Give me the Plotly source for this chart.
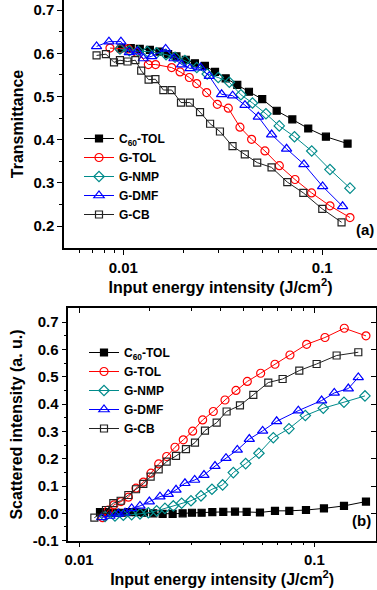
import plotly.graph_objects as go

# ---------------- Panel (a): Transmittance ----------------
x_c60_a = [0.0098, 0.0109, 0.0121, 0.0136, 0.0152, 0.0168, 0.0185, 0.0206, 0.0229, 0.0257,
           0.0289, 0.0327, 0.0374, 0.0428, 0.0499, 0.0590, 0.0707, 0.0850, 0.1043, 0.1340]
y_c60_a = [0.612, 0.612, 0.610, 0.608, 0.604, 0.598, 0.593, 0.585, 0.577, 0.571,
           0.557, 0.542, 0.527, 0.511, 0.494, 0.467, 0.447, 0.426, 0.407, 0.391]

x_tol_a = [0.00857, 0.00962, 0.0106, 0.01167, 0.01336, 0.01453, 0.0175, 0.0193, 0.02147, 0.02338,
           0.02624, 0.02967, 0.03371, 0.03857, 0.04413, 0.05151, 0.06082, 0.07292, 0.08835, 0.1093, 0.1378]
y_tol_a = [0.612, 0.610, 0.610, 0.602, 0.574, 0.574, 0.567, 0.557, 0.544, 0.530,
           0.509, 0.482, 0.473, 0.429, 0.401, 0.374, 0.340, 0.308, 0.277, 0.247, 0.220]

x_nmp_a = [0.00962, 0.01072, 0.0119, 0.0132, 0.0147, 0.0164, 0.0182, 0.0204, 0.0234, 0.0264,
           0.0300, 0.0341, 0.0390, 0.0446, 0.0521, 0.0608, 0.0725, 0.0885, 0.1093, 0.1378]
y_nmp_a = [0.610, 0.606, 0.605, 0.604, 0.601, 0.597, 0.591, 0.583, 0.567, 0.552,
           0.544, 0.533, 0.504, 0.485, 0.460, 0.432, 0.407, 0.374, 0.331, 0.288]

x_dmf_a = [0.00734, 0.00847, 0.00973, 0.01072, 0.01176, 0.01260, 0.01388, 0.01632, 0.01797, 0.01964, 0.02163,
           0.02446, 0.02704, 0.03119, 0.03543, 0.04088, 0.04770, 0.05564, 0.06616, 0.08088, 0.1004, 0.1265]
y_dmf_a = [0.616, 0.627, 0.627, 0.602, 0.604, 0.588, 0.593, 0.610, 0.588, 0.574, 0.565,
           0.567, 0.547, 0.505, 0.502, 0.480, 0.453, 0.412, 0.379, 0.343, 0.292, 0.246]

x_cb_a = [0.00734, 0.00818, 0.00898, 0.00962, 0.0105, 0.0115, 0.0123, 0.0134, 0.0145, 0.0159, 0.0175, 0.0195,
          0.0216, 0.0243, 0.0273, 0.0306, 0.0354, 0.0408, 0.0471, 0.0556, 0.0667, 0.0803, 0.1000, 0.1250]
y_cb_a = [0.595, 0.598, 0.579, 0.584, 0.581, 0.584, 0.560, 0.539, 0.540, 0.515, 0.515, 0.486,
          0.486, 0.464, 0.437, 0.419, 0.385, 0.366, 0.347, 0.336, 0.302, 0.277, 0.240, 0.209]

# ---------------- Panel (b): Scattered intensity ----------------
x_c60_b = [0.01228, 0.01289, 0.01354, 0.01432, 0.01518, 0.01621, 0.01747, 0.01889, 0.02069, 0.02267, 0.02500,
           0.02757, 0.03021, 0.03320, 0.03686, 0.04103, 0.04602, 0.05159, 0.05876, 0.06806, 0.07831, 0.09218,
           0.1099, 0.1337, 0.1658]
y_c60_b = [0.004, 0.004, 0.002, 0.002, 0.002, 0.004, 0.004, 0.002, 0.000, -0.002, -0.002,
           0.000, 0.002, 0.002, 0.004, 0.005, 0.006, 0.005, 0.003, 0.009, 0.009, 0.012,
           0.018, 0.027, 0.043]

x_tol_b = [0.01261, 0.01333, 0.01409, 0.01509, 0.01621, 0.01747, 0.01877, 0.02022, 0.02181, 0.02358, 0.02558,
           0.02774, 0.03041, 0.03353, 0.03722, 0.04173, 0.04646, 0.05191, 0.05916, 0.06806, 0.07880, 0.09278,
           0.1110, 0.1341, 0.1658]
y_tol_b = [-0.016, 0.012, 0.031, 0.043, 0.059, 0.092, 0.114, 0.147, 0.181, 0.208, 0.242,
           0.269, 0.301, 0.342, 0.373, 0.415, 0.450, 0.483, 0.513, 0.546, 0.580, 0.619,
           0.644, 0.678, 0.650]

x_nmp_b = [0.01290, 0.01422, 0.01543, 0.01674, 0.01816, 0.01971, 0.02138, 0.02319, 0.02517, 0.02730, 0.02991,
           0.03299, 0.03673, 0.04077, 0.04527, 0.05107, 0.05816, 0.06696, 0.07804, 0.09157, 0.1092, 0.1337, 0.1642]
y_nmp_b = [-0.012, -0.010, -0.007, -0.005, -0.002, 0.002, 0.009, 0.018, 0.027, 0.037, 0.046,
           0.064, 0.088, 0.104, 0.149, 0.182, 0.220, 0.277, 0.310, 0.358, 0.385, 0.407, 0.430]

x_dmf_b = [0.01248, 0.01354, 0.01469, 0.01569, 0.01674, 0.01816, 0.01990, 0.02209, 0.02396, 0.02584, 0.02820,
           0.03101, 0.03397, 0.03784, 0.04214, 0.04708, 0.05294, 0.06031, 0.06917, 0.08551, 0.1074, 0.1216,
           0.1395, 0.1538]
y_dmf_b = [-0.015, -0.010, -0.002, 0.002, 0.018, 0.027, 0.043, 0.061, 0.070, 0.086, 0.110,
           0.122, 0.140, 0.173, 0.202, 0.232, 0.272, 0.302, 0.337, 0.376, 0.413, 0.441,
           0.457, 0.498]

x_cb_b = [0.01162, 0.01302, 0.01399, 0.01503, 0.01621, 0.01747, 0.01877, 0.02016, 0.02181, 0.02358, 0.02584,
          0.02848, 0.03111, 0.03430, 0.03846, 0.04240, 0.04831, 0.05505, 0.06374, 0.07334, 0.08634, 0.1023,
          0.1244, 0.1538]
y_cb_b = [-0.016, 0.012, 0.037, 0.046, 0.067, 0.088, 0.108, 0.134, 0.161, 0.189, 0.210,
          0.235, 0.259, 0.303, 0.332, 0.373, 0.395, 0.434, 0.479, 0.492, 0.523, 0.547,
          0.578, 0.590]

names = ["C<sub>60</sub>-TOL", "G-TOL", "G-NMP", "G-DMF", "G-CB"]
colors = ["#000000", "#FF0000", "#008B8B", "#0000FF", "#222222"]
symbols = ["square", "circle-open", "diamond-open", "triangle-up-open", "square-open"]
msizes = [7, 8, 8, 9, 7]

FONT = "Liberation Sans, Arial, sans-serif"

fig = go.Figure()

data_a = [(x_c60_a, y_c60_a), (x_tol_a, y_tol_a), (x_nmp_a, y_nmp_a), (x_dmf_a, y_dmf_a), (x_cb_a, y_cb_a)]
data_b = [(x_c60_b, y_c60_b), (x_tol_b, y_tol_b), (x_nmp_b, y_nmp_b), (x_dmf_b, y_dmf_b), (x_cb_b, y_cb_b)]

for i, (xs, ys) in enumerate(data_a):
    fig.add_trace(go.Scatter(x=xs, y=ys, mode="lines+markers", name="<b>" + names[i] + "</b>",
                             line=dict(color=colors[i], width=1),
                             marker=dict(symbol=symbols[i], size=msizes[i], color=colors[i],
                                         line=dict(color=colors[i], width=1.2)),
                             xaxis="x", yaxis="y", legend="legend"))
for i, (xs, ys) in enumerate(data_b):
    fig.add_trace(go.Scatter(x=xs, y=ys, mode="lines+markers", name="<b>" + names[i] + "</b>",
                             line=dict(color=colors[i], width=1),
                             marker=dict(symbol=symbols[i], size=msizes[i], color=colors[i],
                                         line=dict(color=colors[i], width=1.2)),
                             xaxis="x2", yaxis="y2", legend="legend2"))

# invisible traces to keep the mirror axes drawn
fig.add_trace(go.Scatter(x=[0.05], y=[0.3], xaxis="x3", yaxis="y2", mode="markers",
                         marker=dict(opacity=0), showlegend=False, hoverinfo="skip"))
fig.add_trace(go.Scatter(x=[0.05], y=[0.3], xaxis="x2", yaxis="y3", mode="markers",
                         marker=dict(opacity=0), showlegend=False, hoverinfo="skip"))

W, H = 377, 590
minor_log_a = [0.006, 0.007, 0.008, 0.009, 0.02, 0.03, 0.04, 0.05, 0.06, 0.07, 0.08, 0.09]
minor_log_b = [0.02, 0.03, 0.04, 0.05, 0.06, 0.07, 0.08, 0.09]

tickfont = dict(family=FONT, size=15, color="black")
titlefont = dict(family=FONT, size=16, color="black")

common_x = dict(type="log", showgrid=False, zeroline=False, showline=True, linecolor="black",
                linewidth=1.5, ticks="outside", ticklen=5, tickwidth=1.2, tickcolor="black",
                tickvals=[0.01, 0.1], ticktext=["<b>0.01</b>", "<b>0.1</b>"], tickfont=tickfont,
                automargin=False)
common_y = dict(showgrid=False, zeroline=False, showline=True, linecolor="black", linewidth=1.5,
                ticks="outside", ticklen=5, tickwidth=1.2, tickcolor="black", tickfont=tickfont,
                automargin=False)

xa_dom = [64 / W, 1.0]
ya_dom = [1 - 248 / H, 1.0]
xb_dom = [68.3 / W, 376 / W]
yb_dom = [1 - 540.7 / H, 1 - 308.3 / H]

fig.update_layout(
    width=W, height=H, margin=dict(l=0, r=0, t=0, b=0, autoexpand=False),
    paper_bgcolor="white", plot_bgcolor="white",
    font=dict(family=FONT, color="black"),
    xaxis=dict(common_x, domain=xa_dom, anchor="y", range=[-2.298, -0.725],
               minor=dict(tickvals=minor_log_a, ticks="outside", ticklen=3, tickcolor="black", showgrid=False),
               title=dict(text="<b>Input energy intensity (J/cm<sup>2</sup>)</b>", font=titlefont, standoff=7)),
    yaxis=dict(common_y, domain=ya_dom, anchor="x", range=[0.1495, 0.7233],
               tickvals=[0.2, 0.3, 0.4, 0.5, 0.6, 0.7],
               ticktext=["<b>0.2</b>", "<b>0.3</b>", "<b>0.4</b>", "<b>0.5</b>", "<b>0.6</b>", "<b>0.7</b>"],
               minor=dict(tickvals=[0.25, 0.35, 0.45, 0.55, 0.65], ticks="outside", ticklen=3,
                          tickcolor="black", showgrid=False),
               title=dict(text="<b>Transmittance</b>", font=titlefont, standoff=6)),
    xaxis2=dict(common_x, domain=xb_dom, anchor="y2", range=[-2.0455, -0.7378],
                minor=dict(tickvals=minor_log_b, ticks="outside", ticklen=3, tickcolor="black", showgrid=False),
                title=dict(text="<b>Input energy intensity (J/cm<sup>2</sup>)</b>", font=titlefont, standoff=4)),
    yaxis2=dict(common_y, domain=yb_dom, anchor="x2", range=[-0.1004, 0.751],
                tickvals=[-0.1, 0.0, 0.1, 0.2, 0.3, 0.4, 0.5, 0.6, 0.7],
                ticktext=["<b>-0.1</b>", "<b>0.0</b>", "<b>0.1</b>", "<b>0.2</b>", "<b>0.3</b>",
                          "<b>0.4</b>", "<b>0.5</b>", "<b>0.6</b>", "<b>0.7</b>"],
                minor=dict(tickvals=[-0.05, 0.05, 0.15, 0.25, 0.35, 0.45, 0.55, 0.65], ticks="outside",
                           ticklen=3, tickcolor="black", showgrid=False),
                title=dict(text="<b>Scattered intensity (a. u.)</b>", font=titlefont, standoff=6)),
    xaxis3=dict(type="log", overlaying="x2", anchor="y2", side="top", range=[-2.0455, -0.7378],
                showgrid=False, zeroline=False, showline=True, linecolor="black", linewidth=1.5,
                ticks="inside", ticklen=5, tickcolor="black", tickvals=[0.01, 0.1], showticklabels=False,
                automargin=False,
                minor=dict(tickvals=minor_log_b, ticks="inside", ticklen=3, tickcolor="black", showgrid=False)),
    yaxis3=dict(overlaying="y2", anchor="x2", side="right", range=[-0.1004, 0.751],
                showgrid=False, zeroline=False, showline=True, linecolor="black", linewidth=1.5,
                ticks="inside", ticklen=5, tickcolor="black", automargin=False,
                tickvals=[-0.1, 0.0, 0.1, 0.2, 0.3, 0.4, 0.5, 0.6, 0.7], showticklabels=False),
    legend=dict(x=79 / W, y=1 - 124 / H, xanchor="left", yanchor="top", bgcolor="rgba(0,0,0,0)",
                font=dict(family=FONT, size=12, color="black"), tracegroupgap=0),
    legend2=dict(x=84 / W, y=1 - 338 / H, xanchor="left", yanchor="top", bgcolor="rgba(0,0,0,0)",
                 font=dict(family=FONT, size=12, color="black"), tracegroupgap=0),
    annotations=[
        dict(text="<b>(a)</b>", x=376 / W, y=1 - 229 / H, xref="paper", yref="paper",
             xanchor="right", yanchor="middle", showarrow=False, font=dict(family=FONT, size=15, color="black")),
        dict(text="<b>(b)</b>", x=373 / W, y=1 - 520 / H, xref="paper", yref="paper",
             xanchor="right", yanchor="middle", showarrow=False, font=dict(family=FONT, size=15, color="black")),
    ],
)

fig.write_html("out.html", config={"displayModeBar": False},
               post_script="document.body.style.margin='0px';document.body.style.overflow='hidden';")
